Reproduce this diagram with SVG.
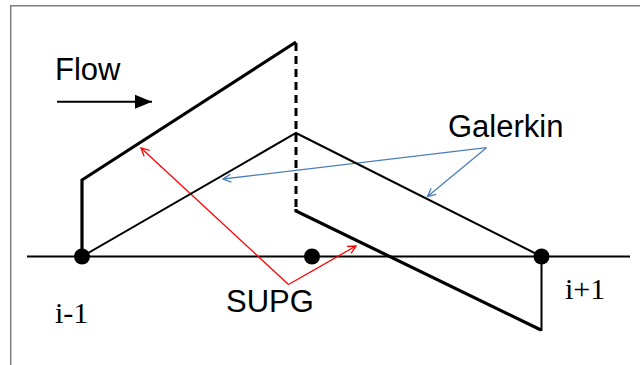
<svg xmlns="http://www.w3.org/2000/svg" width="640" height="365" viewBox="0 0 640 365">
<defs>
<style>
.frame{stroke:#7f7f7f;stroke-width:1.5;fill:none}
.thick{stroke:#000;stroke-width:3.2;fill:none;stroke-linejoin:miter}
.thin{stroke:#000;stroke-width:2;fill:none}
.blue{stroke:#4a7ebb;stroke-width:1.3;fill:none}
.red{stroke:#ff0000;stroke-width:1.3;fill:none}
.sans{font-family:"Liberation Sans",Arial,sans-serif;font-size:31px;fill:#000}
.serif{font-family:"Liberation Serif","Times New Roman",serif;font-size:30px;fill:#000}
</style>
<marker id="openBlue" markerWidth="10" markerHeight="10" refX="9" refY="5" orient="auto" markerUnits="userSpaceOnUse">
<path d="M1,1 L9,5 L1,9" fill="none" stroke="#4a7ebb" stroke-width="1.3"/>
</marker>
<marker id="openRed" markerWidth="10" markerHeight="10" refX="9" refY="5" orient="auto" markerUnits="userSpaceOnUse">
<path d="M1,1 L9,5 L1,9" fill="none" stroke="#ff0000" stroke-width="1.3"/>
</marker>
<marker id="solid" markerWidth="18" markerHeight="16" refX="17" refY="8" orient="auto" markerUnits="userSpaceOnUse">
<path d="M0,1 L17,8 L0,15 Z" fill="#000"/>
</marker>
</defs>
<rect width="640" height="365" fill="#fff"/>
<path class="frame" d="M10.7,365 V5.7 H640"/>

<g id="axis">
<line x1="27" y1="256.5" x2="630" y2="256.5" stroke="#000" stroke-width="2"/>
</g>

<g id="connectors">
<line x1="57" y1="101.7" x2="152" y2="101.7" stroke="#000" stroke-width="2" marker-end="url(#solid)"/>
<polyline class="blue" points="486.5,147.7 223,179" marker-end="url(#openBlue)"/>
<polyline class="blue" points="486.5,147.7 427.5,196.5" marker-end="url(#openBlue)"/>
<polyline class="red" points="288.5,284.5 141,148" marker-end="url(#openRed)"/>
<polyline class="red" points="288.5,284.5 356,246" marker-end="url(#openRed)"/>
</g>

<g id="supg-left">
<polyline class="thick" points="82,256 82,180 296,42"/>
</g>
<g id="dashed-jump">
<line x1="296" y1="43" x2="296" y2="211" stroke="#000" stroke-width="3" stroke-dasharray="8,5"/>
</g>
<g id="supg-right">
<polyline class="thick" points="296,209 296,211 541,330"/>
<line x1="541.5" y1="331" x2="541.5" y2="256" stroke="#000" stroke-width="2"/>
</g>
<g id="galerkin">
<polyline class="thin" points="82,256.5 296,133 541.5,256.5"/>
</g>

<g id="node-i-1"><circle cx="82" cy="256.5" r="8" fill="#000"/></g>
<g id="node-i"><circle cx="312" cy="256.5" r="8" fill="#000"/></g>
<g id="node-i+1"><circle cx="541.5" cy="256.5" r="8" fill="#000"/></g>

<g id="labels">
<text class="sans" x="55" y="79.5">Flow</text>
<text class="sans" x="448" y="137">Galerkin</text>
<text class="sans" x="226" y="312">SUPG</text>
<text class="serif" x="55" y="323">i-1</text>
<text class="serif" x="565" y="299">i+1</text>
</g>
</svg>
